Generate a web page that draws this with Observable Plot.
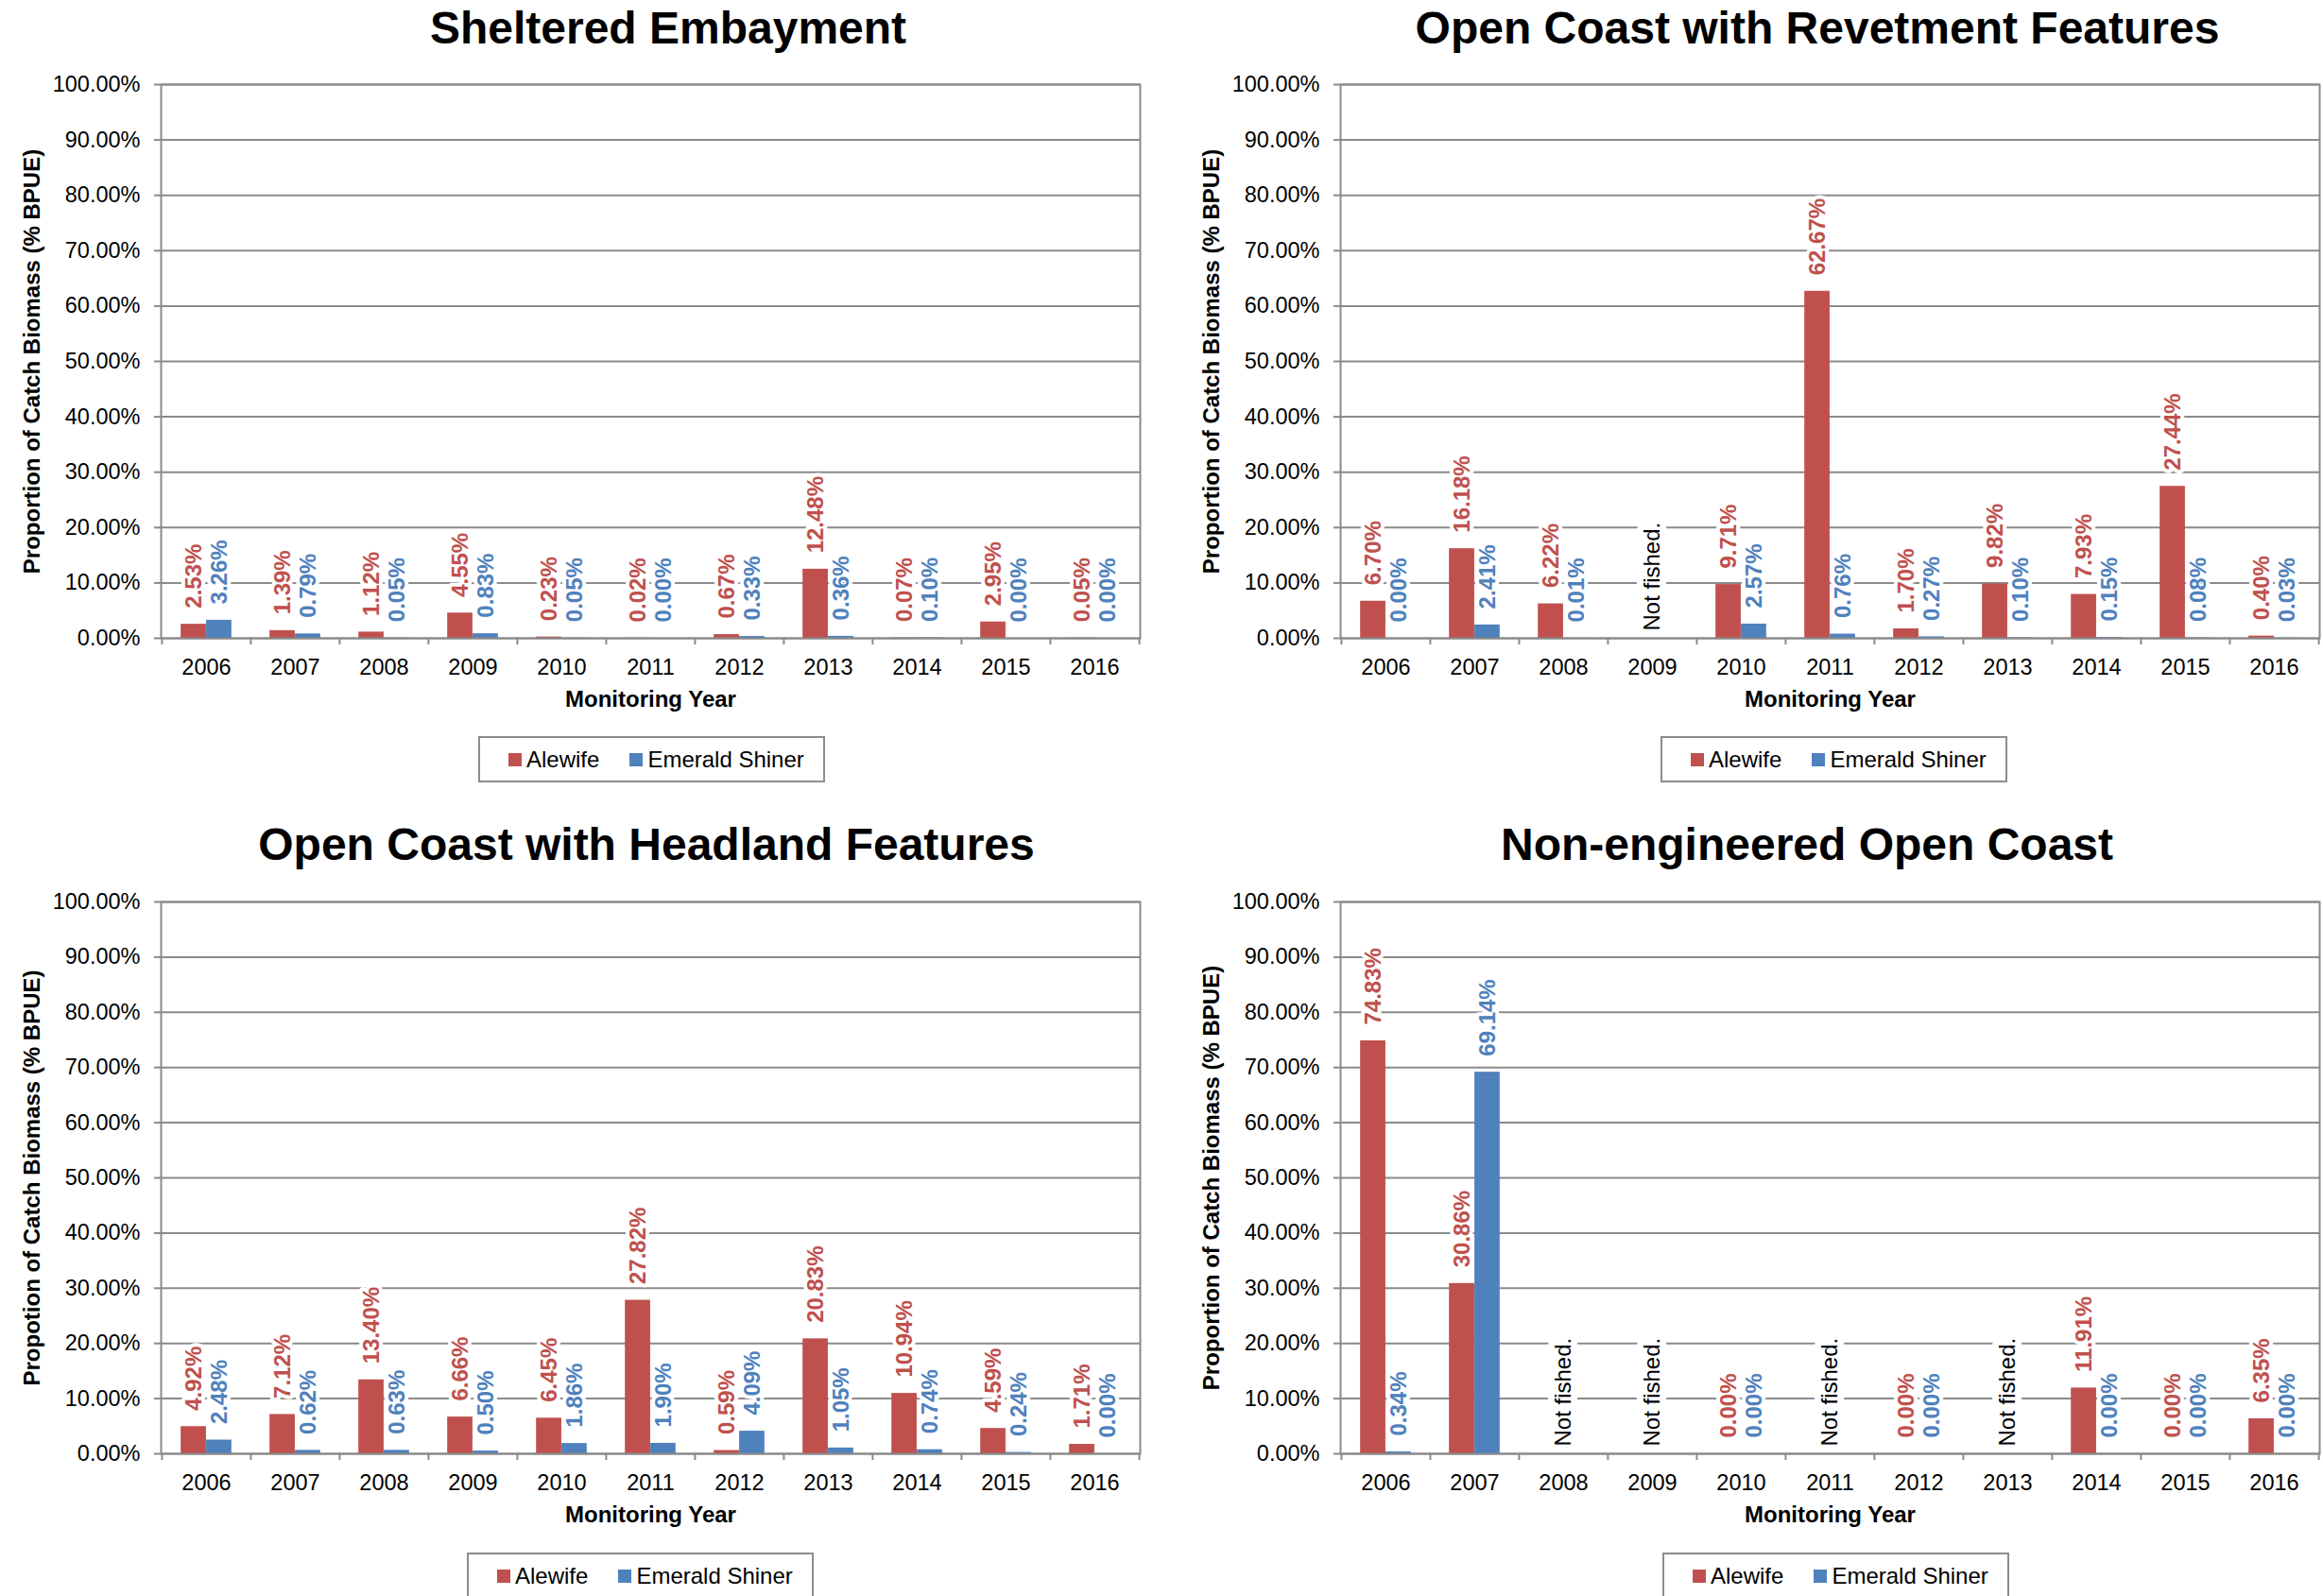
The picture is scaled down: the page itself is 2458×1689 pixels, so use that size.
<!DOCTYPE html>
<html>
<head>
<meta charset="utf-8">
<title>Alewife and Emerald Shiner proportion of catch biomass</title>
<script src="https://cdn.jsdelivr.net/npm/d3@7"></script>
<script src="https://cdn.jsdelivr.net/npm/@observablehq/plot@0.6"></script>
<style>
  html, body { margin: 0; padding: 0; background: #fff; }
  #page {
    position: relative; width: 2458px; height: 1689px; overflow: hidden;
    font-family: "Liberation Sans", Arial, sans-serif; color: #000;
  }
  .title {
    position: absolute; font-size: 48px; font-weight: bold; line-height: 48px;
    white-space: nowrap; transform: translateX(-50%);
  }
  .chart { position: absolute; }
  .chart svg { display: block; }
  .legend {
    position: absolute; box-sizing: border-box; width: 367px; height: 49px;
    border: 2px solid #8c8c8c; background: #fff;
    display: flex; align-items: center; padding-left: 30px;
    font-size: 24px; line-height: 24px; white-space: nowrap;
  }
  .legend .item { display: flex; align-items: center; }
  .legend .item + .item { margin-left: 32px; }
  .legend .sw { width: 14px; height: 14px; margin-right: 5px; }
</style>
</head>
<body>
<div id="page"></div>
<script>
// Monitoring years (x categories)
const years = [2006, 2007, 2008, 2009, 2010, 2011, 2012, 2013, 2014, 2015, 2016];

// Proportion of catch biomass (% BPUE); null = site not fished that year
const shelteredAlewife = [2.53, 1.39, 1.12, 4.55, 0.23, 0.02, 0.67, 12.48, 0.07, 2.95, 0.05];
const shelteredShiner  = [3.26, 0.79, 0.05, 0.83, 0.05, 0.00, 0.33, 0.36, 0.10, 0.00, 0.00];

const revetmentAlewife = [6.70, 16.18, 6.22, null, 9.71, 62.67, 1.70, 9.82, 7.93, 27.44, 0.40];
const revetmentShiner  = [0.00, 2.41, 0.01, null, 2.57, 0.76, 0.27, 0.10, 0.15, 0.08, 0.03];

const headlandAlewife = [4.92, 7.12, 13.40, 6.66, 6.45, 27.82, 0.59, 20.83, 10.94, 4.59, 1.71];
const headlandShiner  = [2.48, 0.62, 0.63, 0.50, 1.86, 1.90, 4.09, 1.05, 0.74, 0.24, 0.00];

const openAlewife = [74.83, 30.86, null, null, 0.00, null, 0.00, null, 11.91, 0.00, 6.35];
const openShiner  = [0.34, 69.14, null, null, 0.00, null, 0.00, null, 0.00, 0.00, 0.00];

// Y axis ticks, in percent
const yTicks = [0, 10, 20, 30, 40, 50, 60, 70, 80, 90, 100];

const series = ["Alewife", "Emerald Shiner"];
const colors = ["#C0504D", "#4F81BD"];
const GRID = "#8a8a8a";
const FONT = "'Liberation Sans', Arial, sans-serif";

const panels = [
  {title: "Sheltered Embayment", yLabel: "Proportion of Catch Biomass (% BPUE)",
   alewife: shelteredAlewife, shiner: shelteredShiner,
   left: 0, top: 60, marginLeft: 170, marginRight: 23, plotHeight: 586,
   titleX: 707, titleTop: 6, legendLeft: 506, legendTop: 779},
  {title: "Open Coast with Revetment Features", yLabel: "Proportion of Catch Biomass (% BPUE)",
   alewife: revetmentAlewife, shiner: revetmentShiner,
   left: 1229, top: 60, marginLeft: 189, marginRight: 4, plotHeight: 586,
   titleX: 1923, titleTop: 6, legendLeft: 1757, legendTop: 779},
  {title: "Open Coast with Headland Features", yLabel: "Propotion of Catch Biomass (% BPUE)",
   alewife: headlandAlewife, shiner: headlandShiner,
   left: 0, top: 925, marginLeft: 170, marginRight: 23, plotHeight: 584,
   titleX: 684, titleTop: 870, legendLeft: 494, legendTop: 1643},
  {title: "Non-engineered Open Coast", yLabel: "Proportion of Catch Biomass (% BPUE)",
   alewife: openAlewife, shiner: openShiner,
   left: 1229, top: 925, marginLeft: 189, marginRight: 4, plotHeight: 584,
   titleX: 1912, titleTop: 870, legendLeft: 1759, legendTop: 1643}
];

const page = document.getElementById("page");
const fmt = (v) => v.toFixed(2) + "%";

function drawPanel(p) {
  const width = 1229;
  const marginTop = 29;
  const marginBottom = 90;
  const height = marginTop + p.plotHeight + marginBottom;
  const band = (width - p.marginLeft - p.marginRight) / years.length;
  const w = band / 3.5; // clustered bars, gap width 150%

  const rows = years.map((year, i) => ({year, alewife: p.alewife[i], shiner: p.shiner[i]}));
  const fished = rows.filter((d) => d.alewife != null);
  const notFished = rows.filter((d) => d.alewife == null);

  const labelStyle = {
    rotate: -90, textAnchor: "start", lineAnchor: "middle",
    fontSize: 24, fontWeight: "bold", dy: -17
  };
  const notFishedStyle = {
    x: "year", frameAnchor: "bottom", text: () => "Not fished.",
    rotate: -90, textAnchor: "start", lineAnchor: "middle", fontSize: 24, dy: -8
  };

  const chart = Plot.plot({
    width, height, marginTop, marginBottom,
    marginLeft: p.marginLeft, marginRight: p.marginRight,
    style: {fontFamily: FONT, fontSize: "23.5px", background: "#fff", overflow: "visible"},
    x: {type: "band", domain: years, padding: 0},
    y: {domain: [0, 100]},
    marks: [
      Plot.gridY(yTicks, {stroke: GRID, strokeOpacity: 1, strokeWidth: 2}),
      Plot.barY(fished, {x: "year", y: "alewife", fill: colors[0], insetLeft: 0.75 * w, insetRight: 1.75 * w}),
      Plot.barY(fished, {x: "year", y: "shiner", fill: colors[1], insetLeft: 1.75 * w, insetRight: 0.75 * w}),
      Plot.frame({stroke: GRID, strokeWidth: 2}),
      // category boundary ticks below the x axis
      Plot.tickX(years, {x: (d) => d, dx: -band / 2, insetTop: p.plotHeight, insetBottom: -7, stroke: GRID, strokeWidth: 2}),
      Plot.tickX(years.slice(-1), {x: (d) => d, dx: band / 2, insetTop: p.plotHeight, insetBottom: -7, stroke: GRID, strokeWidth: 2}),
      Plot.axisY(yTicks, {tickFormat: (d) => d.toFixed(2) + "%", tickSize: 7, tickPadding: 15, stroke: GRID, strokeWidth: 2, label: null, fontSize: 23.5}),
      Plot.axisX({tickFormat: (d) => String(d), tickSize: 0, tickPadding: 22, label: null, fontSize: 23.5}),
      // white backgrounds behind value labels
      Plot.text(fished, {x: "year", y: "alewife", text: (d) => fmt(d.alewife), dx: -0.5 * w, ...labelStyle, fill: "#fff", stroke: "#fff", strokeWidth: 8}),
      Plot.text(fished, {x: "year", y: "shiner", text: (d) => fmt(d.shiner), dx: 0.5 * w, ...labelStyle, fill: "#fff", stroke: "#fff", strokeWidth: 8}),
      Plot.text(notFished, {...notFishedStyle, fill: "#fff", stroke: "#fff", strokeWidth: 14}),
      // value labels
      Plot.text(fished, {x: "year", y: "alewife", text: (d) => fmt(d.alewife), dx: -0.5 * w, ...labelStyle, fill: colors[0]}),
      Plot.text(fished, {x: "year", y: "shiner", text: (d) => fmt(d.shiner), dx: 0.5 * w, ...labelStyle, fill: colors[1]}),
      Plot.text(notFished, {...notFishedStyle, fill: "#000"}),
      // axis titles
      Plot.text([p.yLabel], {frameAnchor: "left", text: (d) => d, rotate: -90, dx: -136, textAnchor: "middle", lineAnchor: "middle", fontSize: 24, fontWeight: "bold", fill: "#000"}),
      Plot.text(["Monitoring Year"], {frameAnchor: "bottom", text: (d) => d, dy: 65, textAnchor: "middle", lineAnchor: "middle", fontSize: 24, fontWeight: "bold", fill: "#000"})
    ]
  });

  const holder = document.createElement("div");
  holder.className = "chart";
  holder.style.left = p.left + "px";
  holder.style.top = p.top + "px";
  holder.appendChild(chart);
  page.appendChild(holder);

  const title = document.createElement("div");
  title.className = "title";
  title.textContent = p.title;
  title.style.left = p.titleX + "px";
  title.style.top = p.titleTop + "px";
  page.appendChild(title);

  const legend = document.createElement("div");
  legend.className = "legend";
  legend.style.left = p.legendLeft + "px";
  legend.style.top = p.legendTop + "px";
  series.forEach((name, i) => {
    const item = document.createElement("div");
    item.className = "item";
    const sw = document.createElement("div");
    sw.className = "sw";
    sw.style.background = colors[i];
    const label = document.createElement("span");
    label.textContent = name;
    item.appendChild(sw);
    item.appendChild(label);
    legend.appendChild(item);
  });
  page.appendChild(legend);
}

panels.forEach(drawPanel);
</script>
</body>
</html>
